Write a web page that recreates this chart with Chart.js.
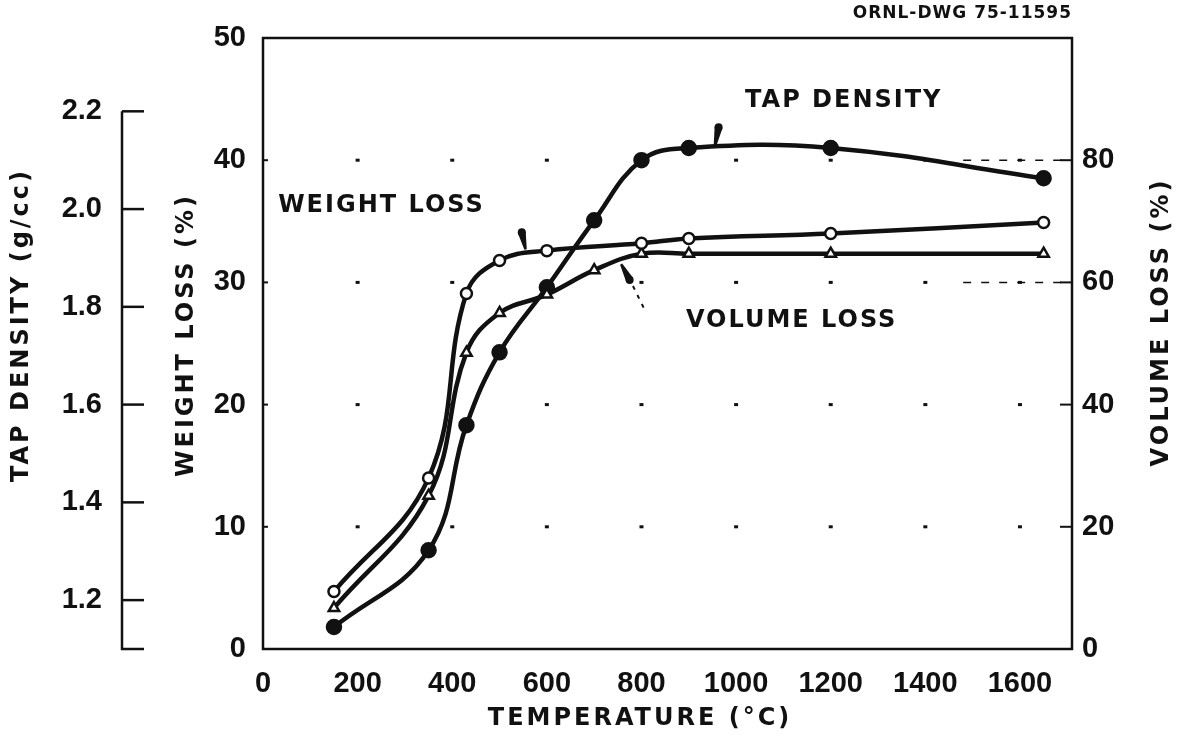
<!DOCTYPE html>
<html>
<head>
<meta charset="utf-8">
<script src="https://cdn.jsdelivr.net/npm/chart.js@4.4.1/dist/chart.umd.min.js"></script>
<style>
  html, body { margin: 0; padding: 0; background: #fff; }
  #wrap { width: 1183px; height: 739px; }
</style>
</head>
<body>
<div id="wrap"><canvas id="chart" width="1183" height="739"></canvas></div>
<script>
// tick labels
const xTicks = [0, 200, 400, 600, 800, 1000, 1200, 1400, 1600];
const weightTicks = [0, 10, 20, 30, 40, 50];
const tapTicks = [1.2, 1.4, 1.6, 1.8, 2.0, 2.2];
const volumeTicks = [0, 20, 40, 60, 80];

// series
const weightTemps = [150, 350, 430, 500, 600, 800, 900, 1200, 1650];
const weightLoss = [4.7, 14.0, 29.1, 31.8, 32.6, 33.2, 33.6, 34.0, 34.9];
const volumeTemps = [150, 350, 430, 500, 600, 700, 800, 900, 1200, 1650];
const volumeLoss = [6.7, 25.1, 48.5, 55.0, 58.0, 62.0, 64.7, 64.7, 64.7, 64.7];
const tapTemps = [150, 350, 430, 500, 600, 700, 800, 900, 1200, 1650];
const tapDensity = [1.145, 1.302, 1.558, 1.707, 1.840, 1.977, 2.100, 2.125, 2.125, 2.063];

const TICK_FONT = { family: '"Liberation Sans", Arial, sans-serif', size: 29, weight: 'bold' };
const TEXT_FONT = '"DejaVu Sans", sans-serif';
const INK = '#111';

function pairs(xs, ys) {
  return xs.map((x, i) => ({ x: x, y: ys[i] }));
}

function fixTicks(list) {
  return scale => { scale.ticks = list.map(v => ({ value: v })); };
}

function drawText(ctx, text, x, y, opts) {
  ctx.save();
  ctx.font = opts.font;
  ctx.letterSpacing = (opts.spacing || 0) + 'px';
  ctx.fillStyle = INK;
  ctx.textAlign = opts.align || 'center';
  ctx.textBaseline = 'middle';
  ctx.translate(x, y);
  if (opts.rotate) ctx.rotate(opts.rotate);
  ctx.fillText(text, 0, 0);
  ctx.restore();
}

// tapered flag that ties a label to its curve
function drawFlag(ctx, bx, by, tx, ty) {
  const dx = tx - bx, dy = ty - by;
  const len = Math.hypot(dx, dy);
  const nx = -dy / len, ny = dx / len;
  ctx.save();
  ctx.fillStyle = INK;
  ctx.beginPath();
  ctx.moveTo(bx + nx * 1.2, by + ny * 1.2);
  ctx.lineTo(tx + nx * 4, ty + ny * 4);
  ctx.lineTo(tx - nx * 4, ty - ny * 4);
  ctx.lineTo(bx - nx * 1.2, by - ny * 1.2);
  ctx.closePath();
  ctx.fill();
  ctx.beginPath();
  ctx.arc(tx, ty, 4, 0, Math.PI * 2);
  ctx.fill();
  ctx.restore();
}

const decor = {
  id: 'decor',
  beforeDatasetsDraw(chart) {
    const { ctx, chartArea: a, scales } = chart;
    const { x, y, tap, vol } = scales;
    ctx.save();
    ctx.strokeStyle = INK;
    ctx.fillStyle = INK;

    // frame
    ctx.lineWidth = 2.5;
    ctx.strokeRect(a.left, a.top, a.right - a.left, a.bottom - a.top);

    // grid dots
    xTicks.slice(1).forEach(tx => {
      weightTicks.slice(1, -1).forEach(ty => {
        ctx.fillRect(x.getPixelForValue(tx) - 2, y.getPixelForValue(ty) - 1.5, 4, 3);
      });
    });

    // inward ticks on the right axis
    ctx.lineWidth = 2;
    volumeTicks.slice(1).forEach(v => {
      const py = vol.getPixelForValue(v);
      ctx.beginPath();
      ctx.moveTo(a.right - 12, py);
      ctx.lineTo(a.right, py);
      ctx.stroke();
    });
    // small ticks on the left axis
    weightTicks.slice(1, -1).forEach(v => {
      const py = y.getPixelForValue(v);
      ctx.beginPath();
      ctx.moveTo(a.left, py);
      ctx.lineTo(a.left + 5, py);
      ctx.stroke();
    });

    // dashed leaders at 60 and 80 volume
    ctx.setLineDash([8, 10]);
    ctx.lineWidth = 1.5;
    [60, 80].forEach(v => {
      const py = vol.getPixelForValue(v);
      ctx.beginPath();
      ctx.moveTo(x.getPixelForValue(1480), py);
      ctx.lineTo(a.right, py);
      ctx.stroke();
    });
    ctx.setLineDash([]);

    // tap density bracket axis
    const ax = tap.right;
    const top = tap.getPixelForValue(2.2);
    ctx.lineWidth = 2.5;
    ctx.beginPath();
    ctx.moveTo(ax, top);
    ctx.lineTo(ax, a.bottom);
    ctx.lineTo(ax + 22, a.bottom);
    ctx.stroke();
    tapTicks.forEach(v => {
      const py = tap.getPixelForValue(v);
      ctx.beginPath();
      ctx.moveTo(ax, py);
      ctx.lineTo(ax + 22, py);
      ctx.stroke();
    });
    ctx.restore();
  },
  afterDatasetsDraw(chart) {
    const { ctx, chartArea: a, scales } = chart;
    const { x, y, vol } = scales;
    const labelFont = 'bold 24px ' + TEXT_FONT;

    drawText(ctx, 'WEIGHT LOSS', x.getPixelForValue(32), y.getPixelForValue(36.3), { font: labelFont, align: 'left', spacing: 2 });
    drawText(ctx, 'TAP DENSITY', x.getPixelForValue(1019), y.getPixelForValue(44.9), { font: labelFont, align: 'left', spacing: 2 });
    drawText(ctx, 'VOLUME LOSS', x.getPixelForValue(894), y.getPixelForValue(26.9), { font: labelFont, align: 'left', spacing: 2 });

    // flags from labels to curves
    drawFlag(ctx, x.getPixelForValue(555), y.getPixelForValue(32.7), x.getPixelForValue(547), y.getPixelForValue(34.1));
    drawFlag(ctx, x.getPixelForValue(955), y.getPixelForValue(41.1), x.getPixelForValue(963), y.getPixelForValue(42.7));
    drawFlag(ctx, x.getPixelForValue(757), vol.getPixelForValue(63.0), x.getPixelForValue(775), vol.getPixelForValue(60.4));
    ctx.save();
    ctx.strokeStyle = INK;
    ctx.lineWidth = 2;
    ctx.setLineDash([4, 6]);
    ctx.beginPath();
    ctx.moveTo(x.getPixelForValue(782), vol.getPixelForValue(59.4));
    ctx.lineTo(x.getPixelForValue(805), vol.getPixelForValue(55.8));
    ctx.stroke();
    ctx.restore();

    // axis titles
    const titleFont = 'bold 24px ' + TEXT_FONT;
    drawText(ctx, 'TAP DENSITY (g/cc)', 22, 325, { font: titleFont, rotate: -Math.PI / 2, spacing: 3 });
    drawText(ctx, 'WEIGHT LOSS (%)', 187, 335, { font: titleFont, rotate: -Math.PI / 2, spacing: 3 });
    drawText(ctx, 'VOLUME LOSS (%)', 1162, 322, { font: titleFont, rotate: -Math.PI / 2, spacing: 3 });
    drawText(ctx, 'TEMPERATURE (°C)', 640, 719, { font: titleFont, spacing: 3 });

    drawText(ctx, 'ORNL-DWG 75-11595', a.right, 14, { font: 'bold 17px ' + TEXT_FONT, align: 'right', spacing: 1 });
  }
};

const lineStyle = {
  borderColor: INK,
  borderWidth: 4.5,
  tension: 0.4,
  pointBorderColor: INK,
  pointBorderWidth: 2.5,
  fill: false
};

const plainLabel = v => String(v);

new Chart(document.getElementById('chart'), {
  type: 'line',
  data: {
    datasets: [
      Object.assign({}, lineStyle, {
        label: 'Weight loss',
        data: pairs(weightTemps, weightLoss),
        yAxisID: 'y',
        pointStyle: 'circle',
        pointRadius: 5.5,
        pointBackgroundColor: '#fff'
      }),
      Object.assign({}, lineStyle, {
        label: 'Volume loss',
        data: pairs(volumeTemps, volumeLoss),
        yAxisID: 'vol',
        pointStyle: 'triangle',
        pointRadius: 6,
        pointBackgroundColor: '#fff'
      }),
      Object.assign({}, lineStyle, {
        label: 'Tap density',
        data: pairs(tapTemps, tapDensity),
        yAxisID: 'tap',
        pointStyle: 'circle',
        pointRadius: 7,
        pointBackgroundColor: INK
      })
    ]
  },
  options: {
    responsive: false,
    animation: false,
    layout: { padding: { top: 38, left: 0, right: 0, bottom: 0 } },
    plugins: { legend: { display: false }, tooltip: { enabled: false } },
    scales: {
      x: {
        type: 'linear', min: 0, max: 1710,
        afterBuildTicks: fixTicks(xTicks),
        afterFit: s => { s.height = 90; },
        grid: { display: false, drawTicks: false },
        border: { display: false },
        ticks: { font: TICK_FONT, color: INK, padding: 18, maxRotation: 0, autoSkip: false, callback: plainLabel }
      },
      y: {
        position: 'left', weight: 0, min: 0, max: 50,
        afterBuildTicks: fixTicks(weightTicks),
        afterFit: s => { s.width = 141; },
        grid: { display: false, drawTicks: false },
        border: { display: false },
        ticks: { font: TICK_FONT, color: INK, padding: 17, callback: plainLabel }
      },
      tap: {
        position: 'left', weight: 1, min: 1.1, max: 2.35,
        afterBuildTicks: fixTicks(tapTicks),
        afterFit: s => { s.width = 122; },
        grid: { display: false, drawTicks: false },
        border: { display: false },
        ticks: { font: TICK_FONT, color: INK, padding: 20, callback: v => v.toFixed(1) }
      },
      vol: {
        position: 'right', min: 0, max: 100,
        afterBuildTicks: fixTicks(volumeTicks),
        afterFit: s => { s.width = 111; },
        grid: { display: false, drawTicks: false },
        border: { display: false },
        ticks: { font: TICK_FONT, color: INK, padding: 10, callback: plainLabel }
      }
    }
  },
  plugins: [decor]
});
</script>
</body>
</html>
